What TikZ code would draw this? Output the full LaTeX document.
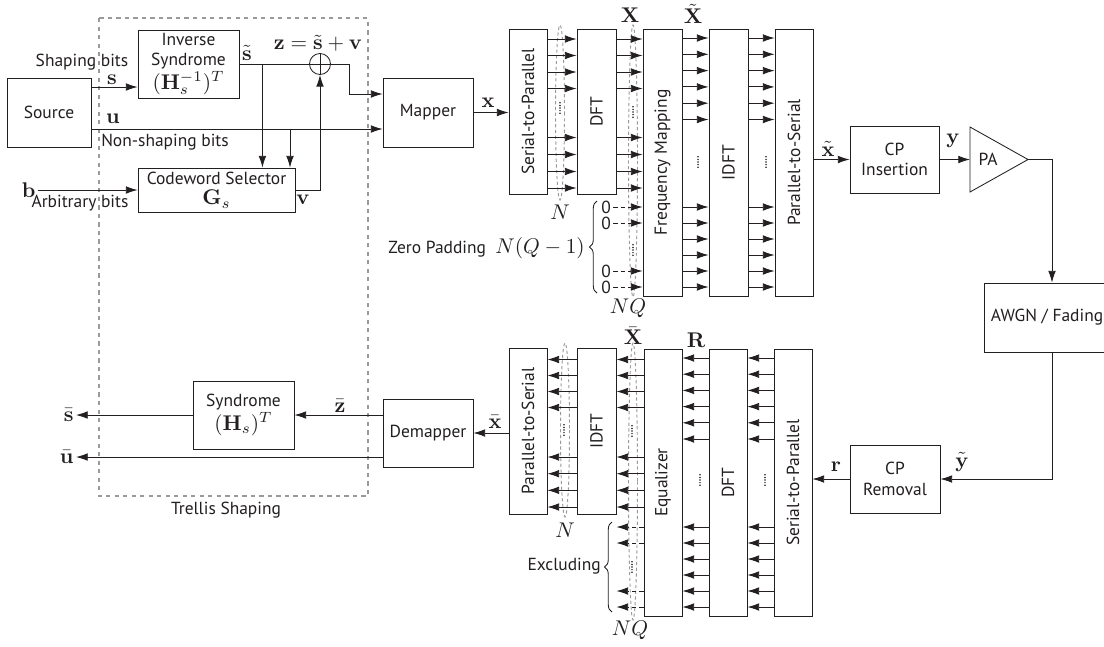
\documentclass[tikz,border=0pt]{standalone}
\usepackage[no-math]{fontspec}
\setmainfont{PT Sans}[Scale=0.82]
\usetikzlibrary{arrows.meta,calc,positioning,decorations.pathreplacing}
\definecolor{ink}{HTML}{231F20}
\definecolor{lanegray}{HTML}{9A9A9A}
\newcommand{\pxsz}{0.47pt}
\newcommand{\vlab}[1]{\rotatebox{90}{#1}}
\tikzset{>={Latex[length=5.5pt,width=3.6pt]},line width=.65pt,
  every node/.style={font=\fontsize{10}{9.6}\selectfont,text=ink},
  blk/.style 2 args={draw=ink,fill=white,align=center,inner sep=1pt,
    minimum width=#1*\pxsz,minimum height=#2*\pxsz},
  sig/.style={->,draw=ink},
  zsig/.style={->,draw=ink,dash pattern=on 2pt off 1.5pt},
  grp/.style={draw=lanegray,line width=.5pt,dash pattern=on 2pt off 2pt},
  lane/.style={draw=lanegray,line width=.45pt,dash pattern=on 1.5pt off 1.2pt},
  brc/.style={decorate,decoration={brace,amplitude=3.5pt},draw=ink}}

\begin{document}
\begin{tikzpicture}[x=\pxsz,y=-\pxsz]
\useasboundingbox (0,0) rectangle (1104,646);
\clip (0,0) rectangle (1104,646);
\draw[grp] (99,18) rectangle (368,496);
\draw[lane] (560,112.5) ellipse [x radius=4.5,y radius=87.5];
\draw[lane] (633,161) ellipse [x radius=4.5,y radius=136];
\draw[lane] (565,430) ellipse [x radius=4.5,y radius=87];
\draw[lane] (633,481.5) ellipse [x radius=4.5,y radius=138.5];
% transmitter blocks
\node[blk={84}{69}] (src) at (49,112.5) {Source};
\node[blk={101}{68}] (invs) at (188.5,64) {Inverse\\Syndrome\\$(\mathbf{H}_s^{-1})^T$};
\node[blk={157}{44}] (cws) at (216.5,190) {Codeword Selector\\$\mathbf{G}_s$};
\node[circle,draw=ink,minimum size=21*\pxsz,inner sep=0pt] (sum) at (320,64) {};
\draw[draw=ink] (sum.north) -- (sum.south) (sum.west) -- (sum.east);
\node[blk={90}{69}] (map) at (428,112.5) {Mapper};
\node[blk={38}{165}] (sp) at (528,111.5) {\vlab{Serial-to-Parallel}};
\node[blk={39}{165}] (dft) at (596.5,111.5) {\vlab{DFT}};
\node[blk={39}{267}] (fm) at (662.5,162.5) {\vlab{Frequency Mapping}};
\node[blk={39}{267}] (idft) at (728.5,162.5) {\vlab{IDFT}};
\node[blk={38}{267}] (ps) at (794,162.5) {\vlab{Parallel-to-Serial}};
\node[blk={89}{67}] (cpi) at (894.5,159.5) {CP\\Insertion};
\coordinate (pain) at (970,159.5);\coordinate (paout) at (1028,159.5);
\draw[draw=ink] (970,127) -- (paout) -- (970,192) -- cycle;
\node (pa) at (988,159.5) {PA};
\node[blk={126}{69}] (awgn) at (1047,317.5) {AWGN / Fading};
\coordinate (chin) at ($(awgn.north)+(5,0)$);\coordinate (chout) at ($(awgn.south)+(5,0)$);
% receiver blocks
\node[blk={90}{68}] (cpr) at (895,479) {CP\\Removal};
\node[blk={38}{267}] (rsp) at (793,482.5) {\vlab{Serial-to-Parallel}};
\node[blk={38}{267}] (rdft) at (728,482.5) {\vlab{DFT}};
\node[blk={38}{267}] (eq) at (663,482.5) {\vlab{Equalizer}};
\node[blk={39}{166}] (ridft) at (596.5,431) {\vlab{IDFT}};
\node[blk={38}{166}] (rps) at (528,431) {\vlab{Parallel-to-Serial}};
\node[blk={90}{68}] (dem) at (428,433) {Demapper};
\node[blk={101}{68}] (syn) at (243.5,415) {Syndrome\\$(\mathbf{H}_s)^T$};
% shaping connectors
\draw[sig] (src.east |- 0,87) -- (invs.west |- 0,87);
\draw[sig] (src.east |- 0,129) -- (map.west |- 0,129);
\draw[draw=ink] (invs.east) -- (sum.west);
\draw[sig] (sum.east) -- ++(18,0) |- (map.west |- 0,94);
\coordinate (brs) at ($(invs.east)+(23,0)$);\coordinate (bru) at (290,129);
\draw[sig] (brs) -- (brs |- cws.north);\draw[sig] (bru) -- (bru |- cws.north);
\coordinate (bin) at (38,190);
\draw[sig] (bin) -- (cws.west);
\draw[sig] (cws.east) -| (sum.south);
\draw[sig] (map.east) -- (sp.west |- map.east);
% parallel lanes, transmitter
\foreach \y in {39,55.5,72,88.5,137.5,154.5,171.5,188}
  {\draw[sig] (sp.east |- 0,\y) -- (dft.west |- 0,\y);
   \draw[sig] (dft.east |- 0,\y) -- (fm.west |- 0,\y);}
\foreach \y [count=\i] in {207,223,271,287}
  {\node[inner sep=1pt] (zero\i) at (606,\y) {0};
   \draw[zsig] (zero\i) -- (fm.west |- zero\i);}
\foreach \y in {38,54.3,70.6,86.9,103.2,119.5,207,223,239,255,271,287}
  {\draw[sig] (fm.east |- 0,\y) -- (idft.west |- 0,\y);
   \draw[sig] (idft.east |- 0,\y) -- (ps.west |- 0,\y);}
\draw[sig] (ps.east |- cpi.west) -- (cpi.west);
\draw[sig] (cpi.east) -- (pain);
\draw[sig] (paout) -| (chin);
\draw[sig] (chout) |- (cpr.east);
\draw[sig] (cpr.west) -- (rsp.east |- cpr.west);
% parallel lanes, receiver
\foreach \y in {358,374.2,390.4,406.6,422.8,439,527,543,559,575,591,607}
  {\draw[sig] (rsp.west |- 0,\y) -- (rdft.east |- 0,\y);
   \draw[sig] (rdft.west |- 0,\y) -- (eq.east |- 0,\y);}
\foreach \y in {359.5,375.5,391.5,407.5,457,473.7,490.3,507}
  {\draw[sig] (eq.west |- 0,\y) -- (ridft.east |- 0,\y);
   \draw[sig] (ridft.west |- 0,\y) -- (rps.east |- 0,\y);}
\foreach \y in {527,543,591,607}
  {\draw[zsig] (eq.west |- 0,\y) -- (ridft.east |- 0,\y);}
\draw[sig] (rps.west |- dem.east) -- (dem.east);
\draw[sig] (dem.west |- syn.east) -- (syn.east);
\coordinate (sout) at (76,415);\coordinate (uout) at (76,457);
\draw[sig] (syn.west) -- (sout);
\draw[sig] (dem.west |- uout) -- (uout);
% dots and braces
\foreach \p in {{560,108},{633,112},{633,250},{698,162},{766,162},
  {564,430},{632,431},{632,567},{700,480},{765,480}}
  \foreach \k in {-2,...,2}
    \fill[ink] ($(\p)+(0,2.6*\k)$) circle [radius=.85];
\draw[brc] (597,293) -- (597,201);
\node[anchor=east] (zpad) at (591,248) {Zero Padding~~$N(Q-1)$};
\draw[brc] (612,612) -- (612,522);
\node[anchor=east] (excl) at (607,566) {Excluding};
% labels
\node (lshp) at (82,62) {Shaping bits};\node (ls) at (112,80) {$\mathbf{s}$};
\node (lu) at (113,119) {$\mathbf{u}$};\node (lnsh) at (165,142) {Non-shaping bits};
\node[anchor=east,inner sep=1pt] (lb) at (bin) {$\mathbf{b}$};\node (larb) at (80,203) {Arbitrary bits};
\node (lst) at (247,53) {$\tilde{\mathbf{s}}$};\node (lz) at (318,43) {$\mathbf{z}=\tilde{\mathbf{s}}+\mathbf{v}$};
\node (lv) at (303,200) {$\mathbf{v}$};\node (lx) at (488,103) {$\mathbf{x}$};
\node (lX) at (630,15) {$\mathbf{X}$};\node (lXt) at (693,14) {$\tilde{\mathbf{X}}$};
\node (lN) at (560,212) {$N$};\node (lNQ) at (628,308) {$NQ$};
\node (lxt) at (828,149) {$\tilde{\mathbf{x}}$};\node (ly) at (953,141) {$\mathbf{y}$};
\node (lyt) at (962,462) {$\tilde{\mathbf{y}}$};\node (lr) at (836,467) {$\mathbf{r}$};
\node (lXb) at (633,336) {$\bar{\mathbf{X}}$};\node (lR) at (696,340) {$\mathbf{R}$};
\node (lrN) at (565,530) {$N$};\node (lrNQ) at (630,630) {$NQ$};
\node (lxb) at (495,422) {$\bar{\mathbf{x}}$};\node (lzb) at (340,406) {$\bar{\mathbf{z}}$};
\node[anchor=east,inner sep=1pt] (lsb) at (sout) {$\bar{\mathbf{s}}$};
\node[anchor=east,inner sep=1pt] (lub) at (uout) {$\bar{\mathbf{u}}$};
\node (ltrl) at (226,510) {Trellis Shaping};
\end{tikzpicture}
\end{document}
